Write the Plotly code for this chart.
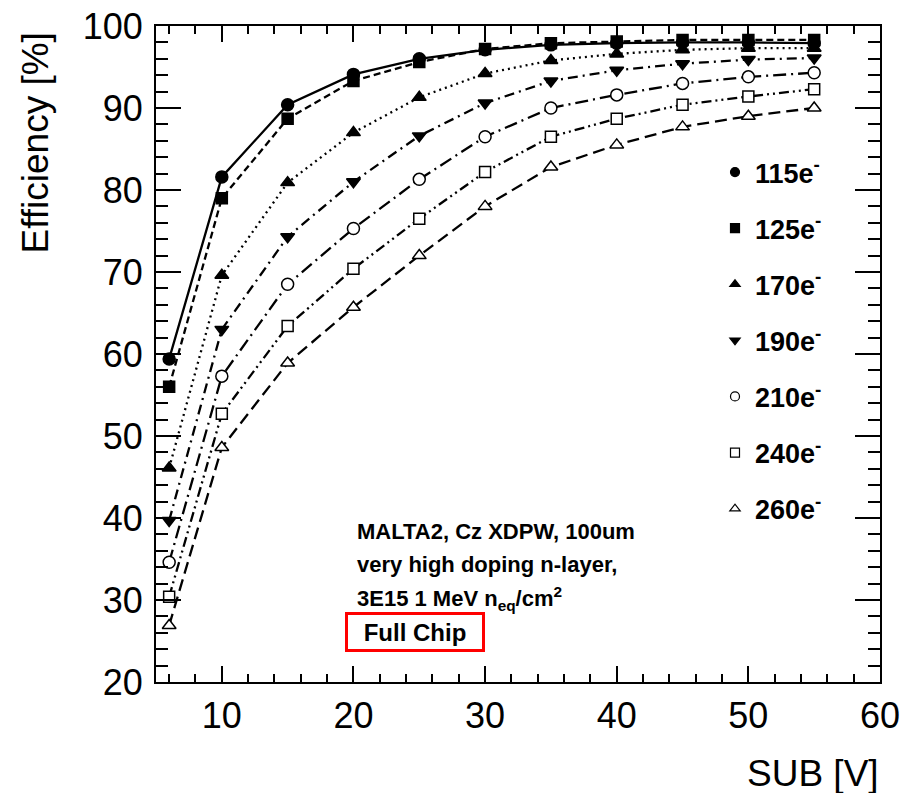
import plotly.graph_objects as go

# ---------------- data ----------------
sub_v = [6, 10, 15, 20, 25, 30, 35, 40, 45, 50, 55]
e115 = [59.4, 81.6, 90.4, 94.1, 96.0, 97.1, 97.7, 97.9, 98.0, 98.0, 97.9]
e125 = [56.0, 79.0, 88.7, 93.3, 95.6, 97.2, 97.9, 98.1, 98.3, 98.3, 98.3]
e170 = [46.1, 69.6, 80.9, 87.0, 91.3, 94.2, 95.8, 96.6, 97.1, 97.3, 97.3]
e190 = [39.7, 63.0, 74.3, 81.0, 86.6, 90.6, 93.3, 94.6, 95.4, 95.9, 96.1]
e210 = [34.6, 57.3, 68.5, 75.3, 81.3, 86.5, 90.0, 91.6, 93.0, 93.8, 94.3]
e240 = [30.4, 52.7, 63.4, 70.4, 76.5, 82.2, 86.5, 88.7, 90.4, 91.4, 92.3]
e260 = [26.9, 48.6, 58.9, 65.7, 72.0, 78.0, 82.8, 85.5, 87.7, 89.0, 90.0]
series_names = ["115e<sup>-</sup>", "125e<sup>-</sup>", "170e<sup>-</sup>", "190e<sup>-</sup>",
                "210e<sup>-</sup>", "240e<sup>-</sup>", "260e<sup>-</sup>"]
series_vals = [e115, e125, e170, e190, e210, e240, e260]

# ---------------- styles ----------------
dashes = ["solid", "7px,4px", "2px,4px", "10px,5px,2px,5px", "13px,5px,2px,5px",
          "10px,4px,2px,4px,2px,4px", "12px,6px"]
symbols = ["circle", "square", "triangle-up", "triangle-down", "circle", "square", "triangle-up"]
fills = ["black", "black", "black", "black", "white", "white", "white"]
sizes = [12, 11, 12, 12, 12, 11, 12]

FONT = "Liberation Sans, Arial, Helvetica, sans-serif"

fig = go.Figure()
for name, vals, dash, sym, fc, sz in zip(series_names, series_vals, dashes, symbols, fills, sizes):
    fig.add_trace(go.Scatter(
        x=sub_v, y=vals, mode="lines+markers", showlegend=False,
        line=dict(color="black", width=2.3, dash=dash),
        marker=dict(symbol=sym, size=sz, color=fc, line=dict(color="black", width=1.5)),
    ))
# legend-only entries (markers only)
for name, sym, fc in zip(series_names, symbols, fills):
    fig.add_trace(go.Scatter(
        x=[None], y=[None], mode="markers", name=name, legendgroup=name,
        marker=dict(symbol=sym, size=9, color=fc, line=dict(color="black", width=1.2)),
    ))

L, R, T, B = 156, 23, 26, 111
W, H = 903, 793
pw, ph = W - L - R, H - T - B

def px_x(p):
    return (p - L) / pw

def px_y(p):
    return (H - B - p) / ph

axis_common = dict(showline=True, linecolor="black", linewidth=2, mirror="ticks",
                   ticks="inside", tickcolor="black", tickwidth=1.5, showgrid=False,
                   zeroline=False, tickfont=dict(family=FONT, size=36, color="black"))

fig.update_xaxes(range=[5, 60], tick0=0, dtick=10, ticklen=16,
                 minor=dict(ticks="inside", dtick=2, tick0=0, ticklen=8, tickcolor="black", tickwidth=1.5),
                 ticklabelstandoff=1, **axis_common)
fig.update_yaxes(range=[20, 100], tick0=0, dtick=10, ticklen=25,
                 minor=dict(ticks="inside", dtick=2, tick0=0, ticklen=12, tickcolor="black", tickwidth=1.5),
                 ticklabelstandoff=4, **axis_common)

TXT = dict(family=FONT, size=22, color="black")
annos = [
    dict(text="Efficiency [%]", textangle=-90, x=px_x(35), y=px_y(31), xanchor="center", yanchor="top",
         font=dict(family=FONT, size=37, color="black")),
    dict(text="SUB [V]", x=px_x(881), y=px_y(773), xanchor="right", yanchor="middle",
         font=dict(family=FONT, size=37, color="black")),
    dict(text="<b>MALTA2, Cz XDPW, 100um</b>", x=px_x(355), y=px_y(531), xanchor="left", yanchor="middle",
         font=TXT),
    dict(text="<b>very high doping n-layer,</b>", x=px_x(355), y=px_y(564), xanchor="left", yanchor="middle",
         font=TXT),
    dict(text="<b>3E15 1 MeV n<sub>eq</sub>/cm<sup>2</sup></b>", x=px_x(355), y=px_y(598), xanchor="left",
         yanchor="middle", font=TXT),
    dict(text="<b>Full Chip</b>", x=px_x(345), y=px_y(632), xanchor="left", yanchor="middle",
         font=dict(family=FONT, size=24, color="black"), bordercolor="#ff0000", borderwidth=3,
         borderpad=1, width=132, height=32, align="center"),
]
for a in annos:
    a.update(xref="paper", yref="paper", showarrow=False)

fig.update_layout(
    width=W, height=H, margin=dict(l=L, r=R, t=T, b=B, autoexpand=False),
    paper_bgcolor="white", plot_bgcolor="white",
    annotations=annos,
    showlegend=True,
    legend=dict(x=px_x(715), y=px_y(148), xanchor="left", yanchor="top", bgcolor="rgba(0,0,0,0)",
                font=dict(family=FONT, size=27, color="black", weight="bold"),
                itemwidth=30, tracegroupgap=18, traceorder="grouped"),
)

fig.write_html("out.html")
